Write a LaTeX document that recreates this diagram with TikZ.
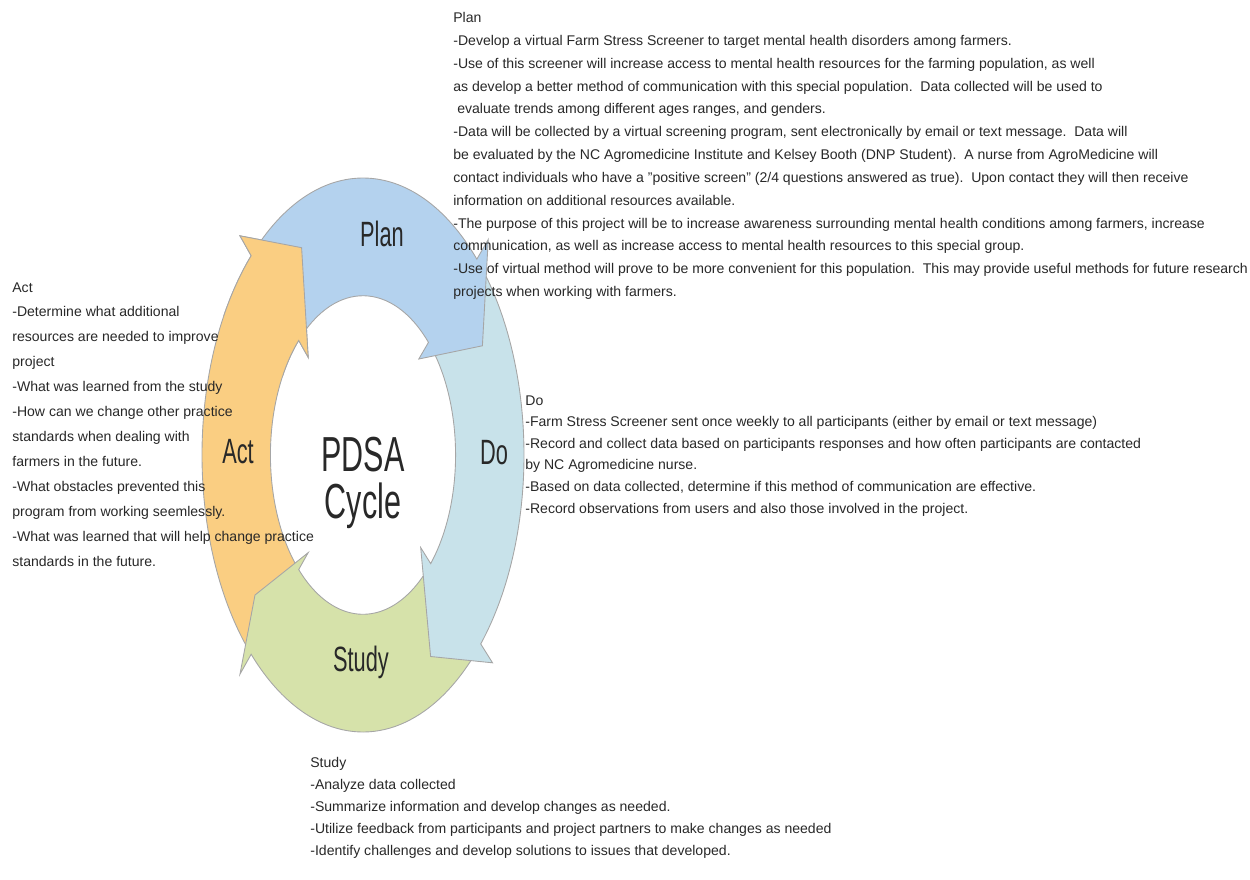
\documentclass[tikz,border=0pt]{standalone}
\usepackage{fontspec}
\setmainfont{Liberation Sans}
\newfontfamily\bigfont{Liberation Sans}[FakeStretch=0.62]
\definecolor{planblue}{RGB}{180,210,238}
\definecolor{doteal}{RGB}{200,226,234}
\definecolor{studygreen}{RGB}{214,226,170}
\definecolor{actorange}{RGB}{250,206,130}
\definecolor{inkgrey}{RGB}{40,40,40}

\begin{document}
\begin{tikzpicture}[x=0.02cm, y=-0.02cm,
    seg/.style={draw=gray!70, line width=0.5pt},
    lbl/.style={font=\bigfont\fontsize{20}{20}\selectfont, text=inkgrey, inner sep=0pt},
    notes/.style={anchor=north west, align=left, inner sep=0pt, text=inkgrey}]
        \useasboundingbox (0,0) rectangle (1250,879);
        % Ring
        \begin{scope}[shift={(363,455)}, xscale=161, yscale=-277]
            \foreach \col/\ts/\tb/\tt in {actorange/226/134/117, studygreen/317/226/217, doteal/45/-43/-60, planblue/134/45/28}
                \draw[seg, fill=\col] (\ts:1) arc[start angle=\ts, end angle=\tb, radius=1]
                    -- (\tb:1.1) -- (\tt:0.84) -- (\tb:0.49) -- (\tb:0.575)
                    arc[start angle=\tb, end angle=\ts, radius=0.575] -- cycle;
            % Act head over the tail of Plan
            \begin{scope}
                \clip (0,0) -- (106:1.5) -- (150:1.5) -- cycle;
                \draw[seg, fill=actorange] (226:1) arc[start angle=226, end angle=134, radius=1]
                    -- (134:1.1) -- (117:0.84) -- (134:0.49) -- (134:0.575)
                    arc[start angle=134, end angle=226, radius=0.575] -- cycle;
            \end{scope}
        \end{scope}
        % Labels
        \node (plan) at (382,234) [lbl] {Plan};
        \node (do) at (494,453) [lbl] {Do};
        \node (study) at (361,662) [lbl] {Study};
        \node (act) at (238,452) [lbl] {Act};
        \node (pdsa) at (363,483) [lbl, font=\bigfont\fontsize{28}{27}\selectfont, align=center] {PDSA\\Cycle};
        % Notes
        \node (plannotes) at (453,12) [notes, font=\fontsize{8}{13}\selectfont] {Plan\\
            -Develop a virtual Farm Stress Screener to target mental health disorders among farmers.\\
            -Use of this screener will increase access to mental health resources for the farming population, as well\\
            as develop a better method of communication with this special population.\ \ Data collected will be used to\\
            \ evaluate trends among different ages ranges, and genders.\\
            -Data will be collected by a virtual screening program, sent electronically by email or text message.\ \ Data will\\
            be evaluated by the NC Agromedicine Institute and Kelsey Booth (DNP Student).\ \ A nurse from AgroMedicine will\\
            contact individuals who have a "positive screen" (2/4 questions answered as true).\ \ Upon contact they will then receive\\
            information on additional resources available.\\
            -The purpose of this project will be to increase awareness surrounding mental health conditions among farmers, increase\\
            communication, as well as increase access to mental health resources to this special group.\\
            -Use of virtual method will prove to be more convenient for this population.\ \ This may provide useful methods for future research\\
            projects when working with farmers.};
        \node (donotes) at (525,395) [notes, font=\fontsize{8}{12.3}\selectfont] {Do\\
            -Farm Stress Screener sent once weekly to all participants (either by email or text message)\\
            -Record and collect data based on participants responses and how often participants are contacted\\
            by NC Agromedicine nurse.\\
            -Based on data collected, determine if this method of communication are effective.\\
            -Record observations from users and also those involved in the project.};
        \node (studynotes) at (310,757) [notes, font=\fontsize{8}{12.5}\selectfont] {Study\\
            -Analyze data collected\\
            -Summarize information and develop changes as needed.\\
            -Utilize feedback from participants and project partners to make changes as needed\\
            -Identify challenges and develop solutions to issues that developed.};
        \node (actnotes) at (12,282) [notes, font=\fontsize{8}{14.2}\selectfont] {Act\\
            -Determine what additional\\
            resources are needed to improve\\
            project\\
            -What was learned from the study\\
            -How can we change other practice\\
            standards when dealing with\\
            farmers in the future.\\
            -What obstacles prevented this\\
            program from working seemlessly.\\
            -What was learned that will help change practice\\
            standards in the future.};
    \end{tikzpicture}
\end{document}
